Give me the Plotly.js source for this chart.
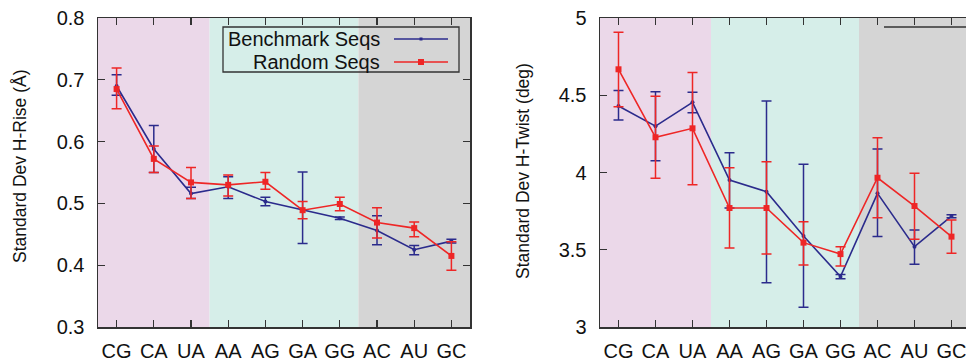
<!DOCTYPE html>
<html>
<head>
<meta charset="utf-8">
<script src="https://cdn.plot.ly/plotly-3.0.1.min.js"></script>
<style>html,body{margin:0;padding:0;background:#fff;}#chart{width:966px;height:360px;}</style>
</head>
<body>
<div id="chart"></div>
<script>
// ---- data ----
var categories = ["CG","CA","UA","AA","AG","GA","GG","AC","AU","GC"];

// H-Rise (Å)
var riseBench      = [0.690, 0.588, 0.516, 0.527, 0.503, 0.490, 0.476, 0.456, 0.425, 0.439];
var riseBenchHi    = [0.708, 0.626, 0.526, 0.543, 0.510, 0.551, 0.478, 0.480, 0.432, 0.442];
var riseBenchLo    = [0.675, 0.550, 0.508, 0.508, 0.496, 0.435, 0.474, 0.433, 0.417, 0.436];
var riseRandom     = [0.685, 0.572, 0.534, 0.530, 0.535, 0.489, 0.499, 0.469, 0.460, 0.415];
var riseRandomHi   = [0.719, 0.593, 0.558, 0.546, 0.550, 0.503, 0.510, 0.493, 0.470, 0.438];
var riseRandomLo   = [0.653, 0.550, 0.508, 0.512, 0.523, 0.475, 0.488, 0.444, 0.446, 0.392];

// H-Twist (deg)
var twistBench     = [4.430, 4.300, 4.454, 3.951, 3.876, 3.589, 3.326, 3.865, 3.520, 3.718];
var twistBenchHi   = [4.530, 4.523, 4.520, 4.128, 4.463, 4.053, 3.339, 4.152, 3.628, 3.727];
var twistBenchLo   = [4.340, 4.076, 4.387, 3.770, 3.287, 3.128, 3.313, 3.585, 3.406, 3.707];
var twistRandom    = [4.668, 4.228, 4.286, 3.770, 3.770, 3.546, 3.472, 3.966, 3.783, 3.585];
var twistRandomHi  = [4.907, 4.493, 4.648, 4.031, 4.070, 3.682, 3.520, 4.225, 3.995, 3.693];
var twistRandomLo  = [4.426, 3.962, 3.921, 3.511, 3.473, 3.401, 3.395, 3.707, 3.568, 3.477];

var seriesNames = ["Benchmark Seqs", "Random Seqs"];
var yTitles = ["Standard Dev H-Rise (Å)", "Standard Dev H-Twist (deg)"];

// ---- styling ----
var BLUE = "#2b2b8c", RED = "#ee2626";
var FONT = "Liberation Sans, Arial, sans-serif";
var W = 966, H = 360, MT = 18, MB = 33;
var PH = H - MT - MB;
function px(x){ return x / W; }
function py(y){ return (H - MB - y) / PH; }

function diff(a, b){ return a.map(function(v, i){ return Math.abs(v - b[i]); }); }

function mk(y, hi, lo, color, sym, size, xa, ya){
  return {
    x: categories, y: y, type: "scatter", mode: "lines+markers",
    xaxis: xa, yaxis: ya, showlegend: false, hoverinfo: "skip",
    line: {color: color, width: 1.6},
    marker: {color: color, symbol: sym, size: size},
    error_y: {type: "data", symmetric: false,
              array: diff(hi, y), arrayminus: diff(y, lo),
              color: color, thickness: 1.5, width: 5}
  };
}

var traces = [
  mk(riseBench, riseBenchHi, riseBenchLo, BLUE, "circle", 4, "x", "y"),
  mk(riseRandom, riseRandomHi, riseRandomLo, RED, "square", 6, "x", "y"),
  mk(twistBench, twistBenchHi, twistBenchLo, BLUE, "circle", 4, "x2", "y2"),
  mk(twistRandom, twistRandomHi, twistRandomLo, RED, "square", 6, "x2", "y2")
];

var bands = [
  {x0: -0.5, x1: 2.5, color: "#ebd8e9"},
  {x0: 2.5, x1: 6.5, color: "#d6eee9"},
  {x0: 6.5, x1: 9.5, color: "#d5d5d5"}
];

var shapes = [];
["x","x2"].forEach(function(xa, k){
  var ya = k === 0 ? "y" : "y2";
  bands.forEach(function(b){
    shapes.push({type: "rect", xref: xa, yref: ya + " domain", x0: b.x0, x1: b.x1, y0: 0, y1: 1,
                 fillcolor: b.color, line: {width: 0}, layer: "below"});
  });
});

// custom legend (sample on the right, as in the original)
shapes.push({type: "rect", xref: "paper", yref: "paper", x0: px(223), x1: px(459), y0: py(72), y1: py(27),
             line: {color: "#333", width: 1.3}, fillcolor: "rgba(0,0,0,0)"});
shapes.push({type: "line", xref: "paper", yref: "paper", x0: px(394), x1: px(448), y0: py(39), y1: py(39),
             line: {color: BLUE, width: 1.6}});
shapes.push({type: "line", xref: "paper", yref: "paper", x0: px(394), x1: px(448), y0: py(62), y1: py(62),
             line: {color: RED, width: 1.6}});
shapes.push({type: "rect", xref: "paper", yref: "paper", x0: px(418), x1: px(424), y0: py(65), y1: py(59),
             line: {width: 0}, fillcolor: RED});
shapes.push({type: "rect", xref: "paper", yref: "paper", x0: px(419.5), x1: px(422.5), y0: py(40.5), y1: py(37.5),
             line: {width: 0}, fillcolor: BLUE});
// partially visible legend border in the right panel
shapes.push({type: "line", xref: "paper", yref: "paper", x0: px(884), x1: px(966), y0: py(27), y1: py(27),
             line: {color: "#333", width: 1.3}});

var annotations = [
  {text: seriesNames[0], xref: "paper", yref: "paper", x: px(382), y: py(39), xanchor: "right", yanchor: "middle",
   showarrow: false, font: {family: FONT, size: 20, color: "#111"}},
  {text: seriesNames[1], xref: "paper", yref: "paper", x: px(382), y: py(62), xanchor: "right", yanchor: "middle",
   showarrow: false, font: {family: FONT, size: 20, color: "#111"}},
  {text: yTitles[0], xref: "paper", yref: "paper", x: px(20), y: py(166), xanchor: "center", yanchor: "middle",
   textangle: -90, showarrow: false, font: {family: FONT, size: 17.5, color: "#111"}},
  {text: yTitles[1], xref: "paper", yref: "paper", x: px(523), y: py(171), xanchor: "center", yanchor: "middle",
   textangle: -90, showarrow: false, font: {family: FONT, size: 17.5, color: "#111"}}
];

var axFont = {family: FONT, size: 20, color: "#111"};
function xAxis(domain, range){
  return {domain: domain, range: range, type: "category", showgrid: false, zeroline: false,
          showline: true, linecolor: "#333", linewidth: 1.5, mirror: "ticks",
          ticks: "inside", ticklen: 7, tickwidth: 1.3, tickcolor: "#333",
          tickfont: axFont, ticklabelstandoff: 5, fixedrange: true};
}
function yAxis(range, dtick, anchor, mirror){
  return {range: range, dtick: dtick, anchor: anchor, showgrid: false, zeroline: false,
          showline: true, linecolor: "#333", linewidth: 1.5, mirror: mirror,
          ticks: "inside", ticklen: 7, tickwidth: 1.3, tickcolor: "#333",
          tickfont: axFont, ticklabelstandoff: 8, fixedrange: true};
}

var layout = {
  width: W, height: H,
  margin: {l: 0, r: 0, t: MT, b: MB, pad: 0},
  paper_bgcolor: "#fff", plot_bgcolor: "rgba(0,0,0,0)",
  showlegend: false,
  xaxis: xAxis([px(98), px(470)], [-0.5, 9.5]),
  yaxis: Object.assign(yAxis([0.3, 0.8], 0.1, "x", "ticks"), {tickformat: ".1f"}),
  xaxis2: Object.assign(xAxis([px(600), 1], [-0.5, -0.5 + 366 / 37]), {anchor: "y2"}),
  yaxis2: yAxis([3, 5], 0.5, "x2", false),
  shapes: shapes,
  annotations: annotations
};
layout.xaxis.anchor = "y";

Plotly.newPlot("chart", traces, layout, {displayModeBar: false, staticPlot: true});
</script>
</body>
</html>
